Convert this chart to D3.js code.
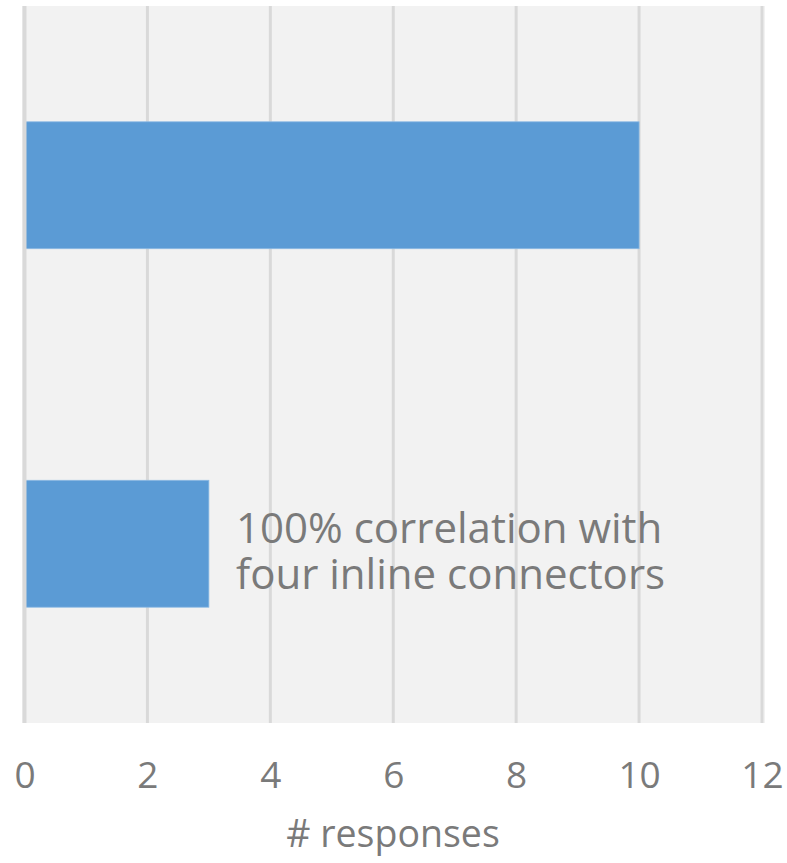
<!DOCTYPE html>
<html>
<head>
<meta charset="utf-8">
<script src="https://cdn.jsdelivr.net/npm/d3@7"></script>
<style>
  html, body { margin: 0; padding: 0; background: #ffffff; }
  svg { display: block; font-family: "Open Sans", sans-serif; }
</style>
</head>
<body>
<svg id="chart" width="787" height="863"></svg>
<script>
const categories = ["A", "B"];
const values = [10, 3];
const xTicks = [0, 2, 4, 6, 8, 10, 12];
const annotationLines = ["100% correlation with", "four inline connectors"];
const axisTitle = "# responses";

const svg = d3.select("#chart");
const panel = { left: 22, right: 765, top: 6, bottom: 723 };

const x = d3.scaleLinear().domain([0, 12]).range([24.5, 762]);
const y = d3.scaleBand().domain(categories).range([panel.top, panel.bottom])
  .paddingInner(0.646).paddingOuter(0.323);

svg.append("rect")
  .attr("x", panel.left).attr("y", panel.top)
  .attr("width", panel.right - panel.left).attr("height", panel.bottom - panel.top)
  .attr("fill", "#f2f2f2");

// gridlines
svg.append("g").selectAll("line").data(xTicks.filter(d => d !== 0)).join("line")
  .attr("x1", d => x(d)).attr("x2", d => x(d))
  .attr("y1", panel.top).attr("y2", panel.bottom)
  .attr("stroke", "#d9d9d9").attr("stroke-width", 3);

// bars
svg.append("g").selectAll("rect").data(categories).join("rect")
  .attr("x", x(0)).attr("y", d => y(d))
  .attr("width", (d, i) => x(values[i]) - x(0))
  .attr("height", y.bandwidth())
  .attr("fill", "#5b9bd5")
  .attr("stroke", "#8cb9e3").attr("stroke-width", 0.8);

// zero line
svg.append("line")
  .attr("x1", x(0)).attr("x2", x(0))
  .attr("y1", panel.top).attr("y2", panel.bottom)
  .attr("stroke", "#d9d9d9").attr("stroke-width", 4);

// x axis labels
const axis = d3.axisBottom(x).tickValues(xTicks).tickSize(0).tickPadding(0);
const ag = svg.append("g").attr("transform", `translate(0, ${panel.bottom})`).call(axis);
ag.select(".domain").remove();
ag.selectAll("text")
  .attr("y", 65).attr("dy", 0)
  .attr("font-family", "Open Sans, sans-serif")
  .attr("font-size", 37)
  .attr("fill", "#7a7a7a");

// axis title
svg.append("text")
  .attr("x", 393).attr("y", 847)
  .attr("text-anchor", "middle")
  .attr("font-size", 37.5)
  .attr("fill", "#7a7a7a")
  .text(axisTitle);

// annotation
const ann = svg.append("text")
  .attr("x", 236).attr("y", 543)
  .attr("font-size", 42)
  .attr("fill", "#7a7a7a");
annotationLines.forEach((t, i) => {
  ann.append("tspan").attr("x", 236).attr("y", 543 + i * 46).text(t);
});
</script>
</body>
</html>
